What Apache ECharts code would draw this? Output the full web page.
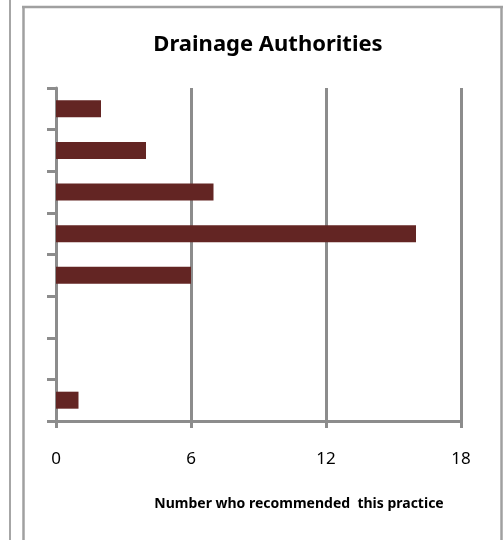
<!DOCTYPE html>
<html>
<head>
<meta charset="utf-8">
<script src="https://cdn.jsdelivr.net/npm/echarts@6/dist/echarts.min.js"></script>
<style>
html,body{margin:0;padding:0;background:#fff;}
#chart{width:504px;height:540px;}
</style>
</head>
<body>
<div id="chart"></div>
<script>
// Data
var categories = ['Practice 1', 'Practice 2', 'Practice 3', 'Practice 4', 'Practice 5', 'Practice 6', 'Practice 7', 'Practice 8'];
var values = [2, 4, 7, 16, 6, 0, 0, 1];
var xTicks = [0, 6, 12, 18];
var chartTitle = 'Drainage Authorities';
var xAxisTitle = 'Number who recommended  this practice';

var FONT = '"Noto Sans", "Liberation Sans", sans-serif';
var GRAY = '#8c8c8c';
var FRAME = '#a0a0a0';

var chart = echarts.init(document.getElementById('chart'), null, {renderer: 'canvas'});
chart.setOption({
  backgroundColor: '#fff',
  animation: false,
  title: [
    {text: chartTitle, left: 263, top: 29, textAlign: 'center',
     textStyle: {fontFamily: FONT, fontWeight: 'bold', fontSize: 22, color: '#000'}},
    {text: xAxisTitle, left: 294, top: 492, textAlign: 'center',
     textStyle: {fontFamily: FONT, fontWeight: 'bold', fontSize: 14, color: '#000'}}
  ],
  graphic: [
    {type: 'line', z: 100, shape: {x1: 10, y1: 0, x2: 10, y2: 540}, style: {stroke: '#a6a6a6', lineWidth: 2}},
    {type: 'line', z: 100, shape: {x1: 23.5, y1: 6, x2: 23.5, y2: 540}, style: {stroke: FRAME, lineWidth: 2.5}},
    {type: 'line', z: 100, shape: {x1: 22, y1: 7, x2: 503, y2: 7}, style: {stroke: FRAME, lineWidth: 2.5}},
    {type: 'line', z: 100, shape: {x1: 501.5, y1: 6, x2: 501.5, y2: 540}, style: {stroke: FRAME, lineWidth: 2.5}}
  ],
  grid: {left: 56, right: 43, top: 88, bottom: 119, containLabel: false},
  xAxis: {
    type: 'value', min: xTicks[0], max: xTicks[xTicks.length - 1], interval: 6,
    axisLine: {show: true, lineStyle: {color: GRAY, width: 3}},
    axisTick: {show: true, length: 7, lineStyle: {color: GRAY, width: 3}},
    splitLine: {show: true, lineStyle: {color: GRAY, width: 3}},
    axisLabel: {margin: 30, fontFamily: FONT, fontSize: 17, color: '#000'}
  },
  yAxis: {
    type: 'category', data: categories, inverse: true,
    axisLine: {show: true, lineStyle: {color: GRAY, width: 3}},
    axisTick: {show: true, inside: false, length: 9, interval: 0, lineStyle: {color: GRAY, width: 3}},
    axisLabel: {show: false},
    splitLine: {show: false}
  },
  series: [{
    type: 'bar', data: values, barWidth: 17,
    itemStyle: {color: '#632523'}
  }]
});
</script>
</body>
</html>
